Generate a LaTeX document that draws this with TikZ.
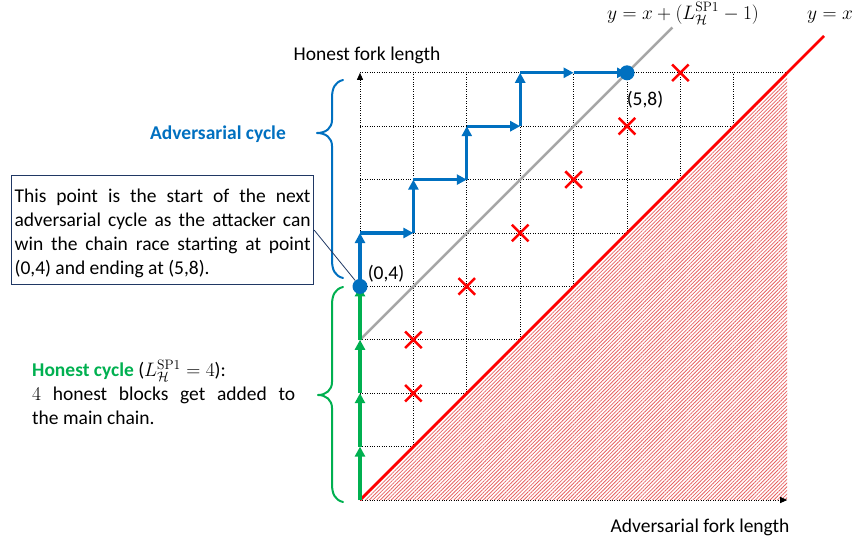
\RequirePackage{fix-cm}
\documentclass[tikz,border=0pt]{standalone}
\usepackage{amsmath}
\usepackage[no-math]{fontspec}
\setmainfont{Carlito}
\usetikzlibrary{arrows.meta,patterns.meta}
\definecolor{oblue}{RGB}{0,112,192}
\definecolor{ogreen}{RGB}{0,176,80}
\definecolor{ogray}{RGB}{166,166,166}
\definecolor{onavy}{RGB}{32,56,100}
\definecolor{hatchred}{RGB}{232,100,100}
\begin{document}
\begin{tikzpicture}[x=1pt,y=-1pt,
  every node/.style={font=\fontsize{19.5}{24}\selectfont, inner sep=0pt},
  gridline/.style={black, line width=0.9pt, dash pattern=on 0.9pt off 1.5pt},
  axisline/.style={black, line width=0.9pt, dash pattern=on 0.9pt off 1.5pt, -{Triangle[length=7pt,width=6pt]}},
  bluestep/.style={oblue, line width=3.3pt, -{Triangle[length=10pt,width=10pt]}},
  greenstep/.style={ogreen, line width=3.3pt, -{Triangle[length=10pt,width=10pt]}},
  crossmark/.style={red, line width=2.5pt},
  bluedot/.style={circle, fill=oblue, minimum size=15pt, inner sep=0pt},
  bracestyle/.style={line width=2pt, line join=round, line cap=round},
  textblock/.style={align=justify, anchor=north west}
]
\useasboundingbox (0,0) rectangle (857,542);
\begin{scope}[shift={(360,500)},x=53.4pt,y=53.4pt]
  \foreach \i in {1,...,7} \draw[gridline] (\i,0) -- (\i,8);
  \foreach \j in {1,...,8} \draw[gridline] (0,\j) -- (8,\j);
  \fill[white] (0,0) -- (8,0) -- (8,8) -- cycle;
  \fill[pattern={Lines[angle=45,distance=2.6pt,line width=0.8pt]}, pattern color=hatchred] (0,0) -- (8,0) -- (8,8) -- cycle;
  \coordinate (o) at (0,0);
  \coordinate (xend) at (8,0);
  \coordinate (yend) at (0,8);
  \draw[axisline] (o) -- (xend);
  \draw[axisline] (o) -- (yend);
  \coordinate (gs) at (0,3);
  \coordinate (ge) at (5.85,8.85);
  \draw[ogray, line width=2.5pt] (gs) -- (ge);
  \coordinate (re) at (8.69,8.69);
  \draw[red, line width=2.6pt] (o) -- (re);
  \foreach \cx/\cy in {1/2,1/3,2/4,3/5,4/6,5/7,6/8}
    \draw[crossmark] (\cx-0.155,\cy-0.155) -- (\cx+0.155,\cy+0.155)
                     (\cx-0.155,\cy+0.155) -- (\cx+0.155,\cy-0.155);
  % green honest steps
  \coordinate (g0) at (0,0);
  \coordinate (g1) at (0,1);
  \coordinate (g2) at (0,2);
  \coordinate (g3) at (0,3);
  \coordinate (g4) at (0,4);
  \draw[greenstep] (g0) -- (g1);
  \draw[greenstep] (g1) -- (g2);
  \draw[greenstep] (g2) -- (g3);
  \draw[greenstep] (g3) -- (g4);
  % blue adversarial steps
  \coordinate (b0) at (0,4);
  \coordinate (b1) at (0,5);
  \coordinate (b2) at (1,5);
  \coordinate (b3) at (1,6);
  \coordinate (b4) at (2,6);
  \coordinate (b5) at (2,7);
  \coordinate (b6) at (3,7);
  \coordinate (b7) at (3,8);
  \coordinate (b8) at (4,8);
  \coordinate (b9) at (5,8);
  \draw[bluestep] (b0) -- (b1);
  \draw[bluestep] (b1) -- (b2);
  \draw[bluestep] (b2) -- (b3);
  \draw[bluestep] (b3) -- (b4);
  \draw[bluestep] (b4) -- (b5);
  \draw[bluestep] (b5) -- (b6);
  \draw[bluestep] (b6) -- (b7);
  \draw[bluestep] (b7) -- (b8);
  \draw[bluestep] (b8) -- (b9);
  \node[bluedot] (d04) at (0,4) {};
  \node[bluedot] (d58) at (5,8) {};
\end{scope}
% labels
\node[anchor=base] (lab58) at (645,105) {(5,8)};
\node[anchor=base] (lab04) at (386,279) {(0,4)};
\node[anchor=base] (yl) at (367,60) {Honest fork length};
\node[anchor=base] (xl) at (700,532) {Adversarial fork length};
\node[anchor=base] (lyx) at (830,19) {$y = x$};
\node[anchor=base] (lyxl) at (683,19) {$y = x + (L_{\mathcal{H}}^{\mathrm{SP1}} - 1)$};
\node[anchor=base, text=oblue, font=\fontsize{19.5}{24}\selectfont\bfseries] (advc) at (218,139) {Adversarial cycle};
% braces
\draw[bracestyle, oblue] (343,80) .. controls (335,82) and (332,88) .. (332,98) -- (332,120)
  .. controls (332,128) and (326,133) .. (317,133) .. controls (326,133) and (332,138) .. (332,146)
  -- (332,260) .. controls (332,270) and (335,276) .. (343,278);
\draw[bracestyle, ogreen] (343,287) .. controls (335,289) and (332,295) .. (332,305) -- (332,382)
  .. controls (332,390) and (326,395) .. (318,395) .. controls (326,395) and (332,400) .. (332,408)
  -- (332,484) .. controls (332,494) and (335,500) .. (343,502);
% explanation box
\node[textblock, draw=onavy, line width=1.2pt, text width=296pt, inner xsep=3pt, inner ysep=0pt] (box) at (11,175)
  {\rule{0pt}{27pt}This point is the start of the next\linebreak adversarial cycle as the attacker can\linebreak win the chain race starting at point\linebreak (0,4) and ending at (5,8).\rule[-10pt]{0pt}{10pt}};
\draw[onavy, line width=0.8pt] (box.east) -- (d04);
% honest cycle text
\node[textblock, text width=263pt] (honest) at (32,358)
  {\rule{0pt}{18pt}{\bfseries\color{ogreen}Honest cycle} ($L_{\mathcal{H}}^{\mathrm{SP1}} = 4$):\newline $4$ honest blocks get added to\linebreak the main chain.};
\end{tikzpicture}
\end{document}
